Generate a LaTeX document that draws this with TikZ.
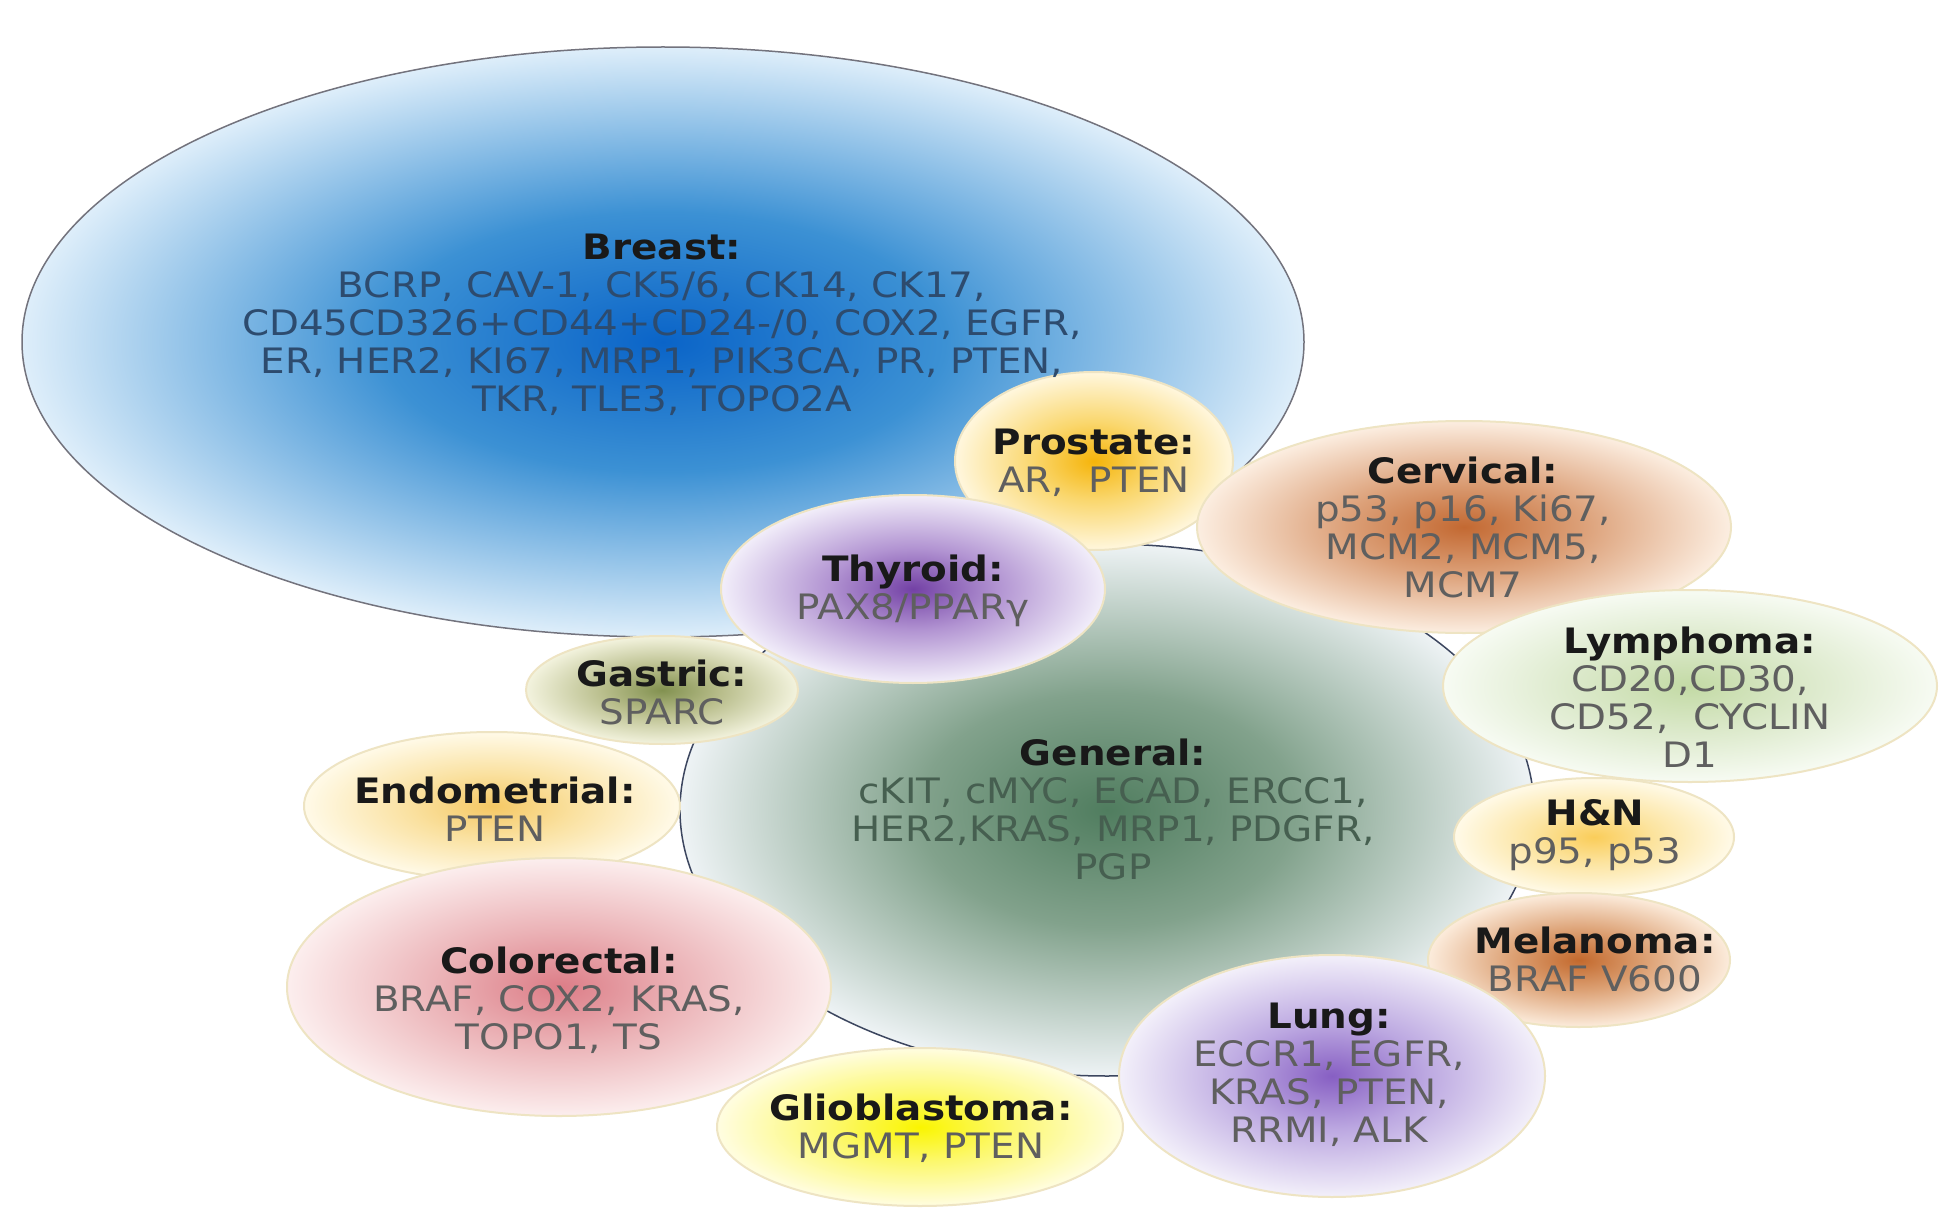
\documentclass[tikz,border=0pt]{standalone}
\usepackage{fontspec}
\setmainfont{DejaVu Sans}[FakeStretch=1.11]
\usetikzlibrary{shapes.geometric}
% colours: centre, middle, edge
\definecolor{brA}{RGB}{10,100,200}\definecolor{brB}{RGB}{60,145,212}\definecolor{brC}{RGB}{222,238,250}
\definecolor{geA}{RGB}{80,125,95}\definecolor{geB}{RGB}{130,162,140}\definecolor{geC}{RGB}{238,243,245}
\definecolor{prA}{RGB}{245,180,10}\definecolor{prB}{RGB}{250,215,110}\definecolor{prC}{RGB}{255,247,222}
\definecolor{ceA}{RGB}{195,105,50}\definecolor{ceB}{RGB}{220,160,120}\definecolor{ceC}{RGB}{252,238,225}
\definecolor{thA}{RGB}{115,65,165}\definecolor{thB}{RGB}{178,148,210}\definecolor{thC}{RGB}{242,238,250}
\definecolor{gaA}{RGB}{130,145,80}\definecolor{gaB}{RGB}{185,190,140}\definecolor{gaC}{RGB}{243,243,222}
\definecolor{enA}{RGB}{245,200,100}\definecolor{enB}{RGB}{250,225,160}\definecolor{enC}{RGB}{255,250,232}
\definecolor{coA}{RGB}{220,125,135}\definecolor{coB}{RGB}{235,178,182}\definecolor{coC}{RGB}{252,238,238}
\definecolor{glA}{RGB}{250,245,0}\definecolor{glB}{RGB}{252,248,110}\definecolor{glC}{RGB}{255,253,225}
\definecolor{luA}{RGB}{135,95,195}\definecolor{luB}{RGB}{188,168,225}\definecolor{luC}{RGB}{243,240,250}
\definecolor{meA}{RGB}{195,105,45}\definecolor{meB}{RGB}{220,160,115}\definecolor{meC}{RGB}{252,236,220}
\definecolor{hnA}{RGB}{250,205,90}\definecolor{hnB}{RGB}{252,228,160}\definecolor{hnC}{RGB}{255,250,232}
\definecolor{lyA}{RGB}{195,218,165}\definecolor{lyB}{RGB}{218,232,200}\definecolor{lyC}{RGB}{247,251,243}
\definecolor{rimcol}{RGB}{238,228,195}
\definecolor{brline}{RGB}{115,115,125}
\definecolor{geline}{RGB}{60,70,95}
\definecolor{ttl}{RGB}{25,25,25}
\definecolor{itm}{RGB}{95,95,95}
\definecolor{britm}{RGB}{45,75,110}
\definecolor{geitm}{RGB}{70,95,80}
\newcommand\mkglow[4]{\pgfdeclareradialshading{#1}{\pgfpoint{0bp}{0bp}}{color(0bp)=(#2); color(11bp)=(#3); color(25bp)=(#4); color(50bp)=(#4)}}
\mkglow{brS}{brA}{brB}{brC}
\mkglow{geS}{geA}{geB}{geC}
\mkglow{prS}{prA}{prB}{prC}
\mkglow{ceS}{ceA}{ceB}{ceC}
\mkglow{thS}{thA}{thB}{thC}
\mkglow{gaS}{gaA}{gaB}{gaC}
\mkglow{enS}{enA}{enB}{enC}
\mkglow{coS}{coA}{coB}{coC}
\mkglow{glS}{glA}{glB}{glC}
\mkglow{luS}{luA}{luB}{luC}
\mkglow{meS}{meA}{meB}{meC}
\mkglow{hnS}{hnA}{hnB}{hnC}
\mkglow{lyS}{lyA}{lyB}{lyC}
\newcommand\ttlx[1]{\textcolor{ttl}{\bfseries #1}}
\begin{document}
\begin{tikzpicture}[x=1pt,y=-1pt,
  bub/.style={ellipse,inner sep=0pt,outer sep=0pt,draw=rimcol,line width=2pt},
  lbl/.style={align=center,inner sep=0pt,text=itm,font=\fontsize{35}{38}\selectfont}]
\useasboundingbox[fill=white] (0,0) rectangle (1939,1209);
% big bubbles
\node[bub,draw=brline,line width=1.5pt,shading=brS,minimum width=1282,minimum height=590] (breast) at (663,342) {};
\node[bub,draw=geline,line width=1.5pt,shading=geS,minimum width=854,minimum height=532] (general) at (1107,810) {};
% small bubbles
\node[bub,shading=prS,minimum width=278,minimum height=178] (prostate) at (1094,461) {};
\node[bub,shading=thS,minimum width=384,minimum height=188] (thyroid) at (913,589) {};
\node[bub,shading=gaS,minimum width=272,minimum height=108] (gastric) at (662,690) {};
\node[bub,shading=ceS,minimum width=534,minimum height=212] (cervical) at (1464,527) {};
\node[bub,shading=lyS,minimum width=494,minimum height=192] (lymphoma) at (1690,686) {};
\node[bub,shading=hnS,minimum width=280,minimum height=118] (hn) at (1594,837) {};
\node[bub,shading=meS,minimum width=302,minimum height=134] (melanoma) at (1579,960) {};
\node[bub,shading=luS,minimum width=426,minimum height=242] (lung) at (1332,1076) {};
\node[bub,shading=enS,minimum width=376,minimum height=148] (endometrial) at (492,806) {};
\node[bub,shading=coS,minimum width=544,minimum height=258] (colorectal) at (559,987) {};
\node[bub,shading=glS,minimum width=406,minimum height=158] (glioblastoma) at (920,1127) {};
% labels
\node[lbl,text=britm] (breastT) at (662,325) {\ttlx{Breast:}\\BCRP, CAV-1, CK5/6, CK14, CK17,\\CD45CD326+CD44+CD24-/0, COX2, EGFR,\\ER, HER2, KI67, MRP1, PIK3CA, PR, PTEN,\\TKR, TLE3, TOPO2A};
\node[lbl,text=geitm] (generalT) at (1113,809) {\ttlx{General:}\\cKIT, cMYC, ECAD, ERCC1,\\HER2,KRAS, MRP1, PDGFR,\\PGP};
\node[lbl] (prostateT) at (1094,463) {\ttlx{Prostate:}\\AR,~~PTEN};
\node[lbl] (thyroidT) at (913,591) {\ttlx{Thyroid:}\\PAX8/PPARγ};
\node[lbl] (gastricT) at (662,692) {\ttlx{Gastric:}\\SPARC};
\node[lbl] (cervicalT) at (1463,527) {\ttlx{Cervical:}\\p53, p16, Ki67,\\MCM2, MCM5,\\MCM7};
\node[lbl] (lymphomaT) at (1690,697) {\ttlx{Lymphoma:}\\CD20,CD30,\\CD52,~~CYCLIN\\D1};
\node[lbl] (hnT) at (1595,835) {\ttlx{H\&N}\\p95, p53};
\node[lbl] (melanomaT) at (1595,959) {\ttlx{Melanoma:}\\BRAF V600};
\node[lbl] (lungT) at (1329,1075) {\ttlx{Lung:}\\ECCR1, EGFR,\\KRAS, PTEN,\\RRMI, ALK};
\node[lbl] (endometrialT) at (495,809) {\ttlx{Endometrial:}\\PTEN};
\node[lbl] (colorectalT) at (559,1000) {\ttlx{Colorectal:}\\BRAF, COX2, KRAS,\\TOPO1, TS};
\node[lbl] (glioblastomaT) at (921,1128) {\ttlx{Glioblastoma:}\\MGMT, PTEN};
\end{tikzpicture}
\end{document}
